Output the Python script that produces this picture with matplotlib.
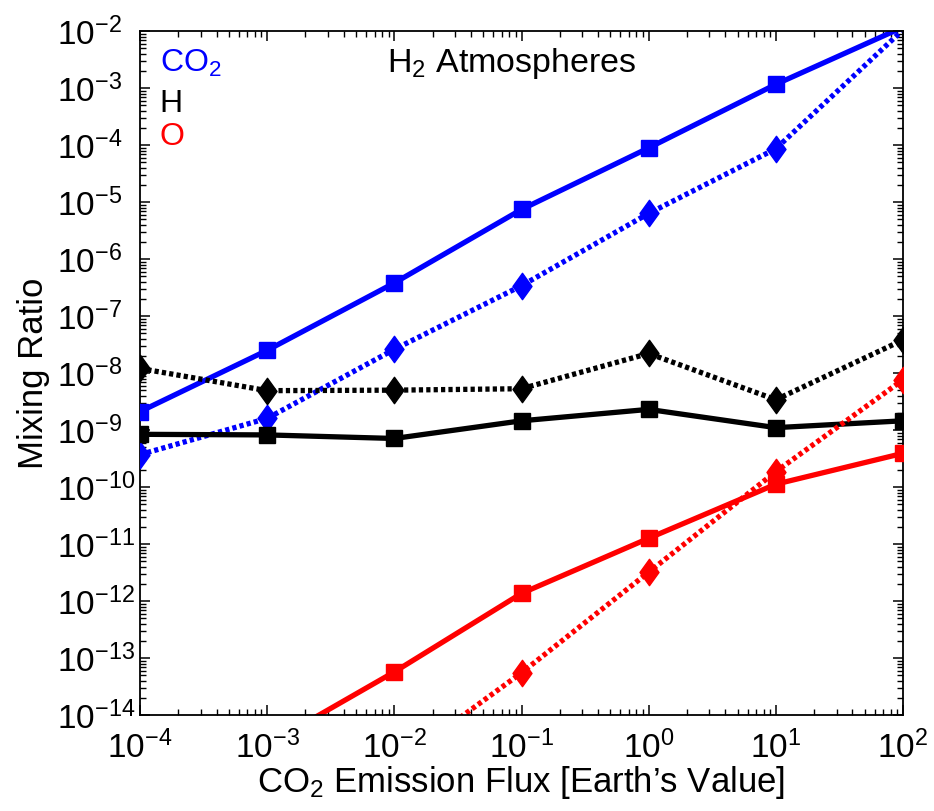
import numpy as np
import matplotlib
matplotlib.use('Agg')
import matplotlib.pyplot as plt
from matplotlib.path import Path
from matplotlib.ticker import FixedLocator, LogLocator, NullFormatter

plt.rcParams['font.family'] = ['Liberation Sans', 'DejaVu Sans']
plt.rcParams['mathtext.fontset'] = 'custom'
plt.rcParams['mathtext.rm'] = 'Liberation Sans'
plt.rcParams['mathtext.it'] = 'Liberation Sans:italic'
plt.rcParams['mathtext.bf'] = 'Liberation Sans:bold'
plt.rcParams['mathtext.default'] = 'regular'

# ---- data ----
flux = [1e-4, 1e-3, 1e-2, 1e-1, 1e0, 1e1, 1e2]
co2_solid = [2.1e-9, 2.5e-8, 3.8e-7, 7.4e-6, 8.9e-5, 1.16e-3, 1.17e-2]
co2_dotted = [3.7e-10, 1.6e-9, 2.6e-8, 3.4e-7, 6.3e-6, 8.6e-5, 1.05e-2]
h_solid = [8.4e-10, 8.2e-10, 7.1e-10, 1.45e-9, 2.3e-9, 1.1e-9, 1.45e-9]
h_dotted = [1.2e-8, 4.9e-9, 5.0e-9, 5.3e-9, 2.2e-8, 3.4e-9, 3.8e-8]
o_solid = [1.6e-16, 3.0e-15, 5.7e-14, 1.36e-12, 1.26e-11, 1.12e-10, 3.9e-10]
o_dotted = [5e-19, 2e-17, 1.3e-15, 5.5e-14, 3.2e-12, 1.86e-10, 7.6e-9]

xticks = [1e-4, 1e-3, 1e-2, 1e-1, 1e0, 1e1, 1e2]
xticklabels = [r'$10^{-4}$', r'$10^{-3}$', r'$10^{-2}$', r'$10^{-1}$',
               r'$10^{0}$', r'$10^{1}$', r'$10^{2}$']
yticks = [10.0 ** k for k in range(-14, -1)]
yticklabels = [r'$10^{%d}$' % k for k in range(-14, -1)]
ylim = (1e-14, 1e-2)
xlim = (1e-4, 1e2)

legend_labels = ['CO$_2$', 'H', 'O']
colors = ['#0000ff', '#000000', '#ff0000']

FS_TICK = 24
FS_LABEL = 25
FS_TITLE = 24.5
FS_LEG = 23

fig = plt.figure(figsize=(9.34, 8.11), dpi=100)
ax = fig.add_axes([140 / 934, 1 - 715 / 811, 763 / 934, 684 / 811])
ax.set_xscale('log')
ax.set_yscale('log')
ax.set_xlim(*xlim)
ax.set_ylim(*ylim)

diamond = Path([(0, 1), (0.72, 0), (0, -1), (-0.72, 0), (0, 1)],
               [Path.MOVETO, Path.LINETO, Path.LINETO, Path.LINETO, Path.CLOSEPOLY])

LW = 3.8
series = [
    (co2_solid, colors[0], '-', 's'),
    (co2_dotted, colors[0], ':', diamond),
    (h_solid, colors[1], '-', 's'),
    (h_dotted, colors[1], ':', diamond),
    (o_solid, colors[2], '-', 's'),
    (o_dotted, colors[2], ':', diamond),
]
x = np.array(flux)
for vals, c, ls, mk in series:
    v = np.array(vals)
    if ls == '-':
        ax.plot(x, v, color=c, lw=LW, ls='-', solid_capstyle='butt', zorder=2)
    else:
        ax.plot(x, v, color=c, lw=LW, dashes=(0.8, 0.6), dash_capstyle='butt', zorder=2)
    inside = (v >= ylim[0]) & (v <= ylim[1])
    vm = np.where(inside, v, np.nan)
    if mk == 's':
        ax.plot(x, vm, ls='none', marker='s', ms=11.5, mfc=c, mec=c, mew=1, zorder=3)
    else:
        ax.plot(x, vm, ls='none', marker=mk, ms=19, mfc=c, mec=c, mew=1, zorder=3)

ax.xaxis.set_major_locator(FixedLocator(xticks))
ax.set_xticklabels(xticklabels)
ax.yaxis.set_major_locator(FixedLocator(yticks))
ax.set_yticklabels(yticklabels)
ax.xaxis.set_minor_locator(LogLocator(base=10, subs=np.arange(2, 10), numticks=100))
ax.yaxis.set_minor_locator(LogLocator(base=10, subs=np.arange(2, 10), numticks=100))
ax.xaxis.set_minor_formatter(NullFormatter())
ax.yaxis.set_minor_formatter(NullFormatter())

ax.tick_params(which='both', direction='in', top=True, right=True, labelsize=FS_TICK)
ax.tick_params(which='major', length=7, width=1.1)
ax.tick_params(which='minor', length=4, width=1.0)
ax.tick_params(axis='x', which='major', pad=11)
ax.tick_params(axis='y', which='major', pad=60)
for lbl in ax.get_yticklabels():
    lbl.set_horizontalalignment('left')
for s in ax.spines.values():
    s.set_linewidth(1.3)

ax.set_xlabel('CO$_2$ Emission Flux [Earth\u2019s Value]', fontsize=FS_LABEL)
ax.set_ylabel('Mixing Ratio', fontsize=FS_LABEL)
ax.xaxis.set_label_coords(0.5, -0.072)
ax.yaxis.set_label_coords(-0.118, 0.5)

ax.text(0.4876, 0.953, 'H$_2$ Atmospheres', transform=ax.transAxes,
        fontsize=FS_TITLE, ha='center', va='center')

ybase = [(715 - 72) / 684, (715 - 112) / 684, (715 - 145) / 684]
for lab, c, yb in zip(legend_labels, colors, ybase):
    ax.text(0.026, yb, lab, transform=ax.transAxes, fontsize=FS_LEG,
            color=c, ha='left', va='baseline')

fig.savefig('out.png', dpi=100)
